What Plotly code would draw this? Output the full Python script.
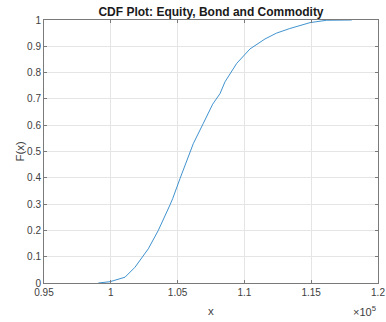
import plotly.graph_objects as go

x_vals = [99064, 99940, 101063, 101811, 102807, 103556, 104431, 104633, 105180,
          106175, 106924, 107627, 108174, 108548, 109424, 110000, 110419, 111542,
          112400, 113361, 114910, 116160, 117000, 118031]
f_vals = [0.0, 0.005, 0.022, 0.06, 0.13, 0.2, 0.297, 0.321, 0.397,
          0.53, 0.607, 0.68, 0.72, 0.765, 0.835, 0.868, 0.89, 0.928,
          0.95, 0.967, 0.99, 0.999, 1.0, 1.0]

x_ticks = [95000, 100000, 105000, 110000, 115000, 120000]
x_tick_text = ["0.95", "1", "1.05", "1.1", "1.15", "1.2"]
y_ticks = [0, 0.1, 0.2, 0.3, 0.4, 0.5, 0.6, 0.7, 0.8, 0.9, 1]
y_tick_text = ["0", "0.1", "0.2", "0.3", "0.4", "0.5", "0.6", "0.7", "0.8", "0.9", "1"]

font = "Liberation Sans, Arial, Helvetica, sans-serif"

fig = go.Figure()
fig.add_trace(go.Scatter(x=x_vals, y=f_vals, mode="lines",
                         line=dict(color="#2A86C8", width=0.9),
                         showlegend=False, hoverinfo="skip"))

axis_common = dict(showgrid=True, gridcolor="#E5E5E5", gridwidth=1,
                   showline=True, linecolor="#7a7a7a", linewidth=1, mirror="ticks",
                   ticks="inside", ticklen=3, tickcolor="#7a7a7a", automargin=False,
                   zeroline=False, tickfont=dict(family=font, size=10, color="#404040"))

fig.update_layout(
    width=386, height=322,
    margin=dict(l=44, r=8, t=20, b=39, autoexpand=False),
    paper_bgcolor="white", plot_bgcolor="white",
    xaxis=dict(range=[95000, 120000], tickvals=x_ticks, ticktext=x_tick_text, **axis_common),
    yaxis=dict(range=[0, 1], tickvals=y_ticks, ticktext=y_tick_text, **axis_common),
    title=dict(text="<b>CDF Plot: Equity, Bond and Commodity</b>",
               x=0.5, xref="paper", xanchor="center",
               y=1 - 11.5 / 322, yref="container", yanchor="middle",
               font=dict(family=font, size=12, color="#1a1a1a")),
    annotations=[
        dict(text="x", x=0.5, xref="paper", y=-20 / 263, yref="paper",
             yanchor="top", showarrow=False, font=dict(family=font, size=11.5, color="#404040")),
        dict(text="F(x)", x=-25 / 334, xref="paper", y=0.5, yref="paper",
             textangle=-90, xanchor="center", showarrow=False,
             font=dict(family=font, size=11.5, color="#404040")),
        dict(text="×10<sup>5</sup>", x=1.0, xref="paper", y=-19 / 263, yref="paper",
             xanchor="right", yanchor="top", showarrow=False,
             font=dict(family=font, size=11, color="#404040")),
    ],
)

fig.write_html("out.html", config={"displayModeBar": False},
               post_script="document.body.style.margin='0';document.body.style.overflow='hidden';")
